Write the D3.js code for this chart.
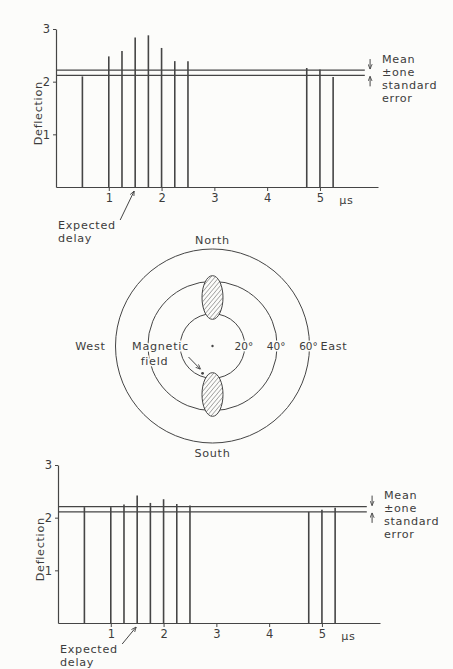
<!DOCTYPE html>
<html>
<head>
<meta charset="utf-8">
<script src="https://cdn.jsdelivr.net/npm/d3@7"></script>
<style>
    body { margin: 0; background: #fcfcfa; }
    text { font-family: "DejaVu Sans", sans-serif; font-size: 11.2px; letter-spacing: 0.7px; fill: #3c3c3c; }
    .tick text { font-size: 11.5px; letter-spacing: 0; }
</style>
</head>
<body>
<svg id="canvas" width="453" height="669"></svg>
<script>
// Pulse delays (µs) and the deflection measured at each one
let delays = [0.5, 1, 1.25, 1.5, 1.75, 2, 2.25, 2.5, 4.75, 5, 5.25]
let topDeflections = [2.1, 2.48, 2.58, 2.84, 2.88, 2.64, 2.39, 2.39, 2.26, 2.23, 2.09]
let bottomDeflections = [2.2, 2.2, 2.25, 2.42, 2.28, 2.35, 2.26, 2.23, 2.11, 2.15, 2.19]

// mean +/- one standard error
let topMeanBand = [2.12, 2.22]
let bottomMeanBand = [2.11, 2.21]

let expectedDelay = 1.5
let delayTicks = [1, 2, 3, 4, 5]
let deflectionTicks = [1, 2, 3]
let bandNote = ['Mean', '\u00b1one', 'standard', 'error']
let delayNote = ['Expected', 'delay']

// Sky diagram (zenith angle in degrees, azimuth from north)
let zenithRings = [20, 40, 60]
let compassNames = ['North', 'East', 'South', 'West']
let lobeAzimuths = [0, 180]
let lobeZenith = 30
let lobeHalfLength = 13.5
let lobeHalfWidth = 6.5
let fieldAzimuth = 200
let fieldZenith = 18

let canvas = d3.select('#canvas')
let ink = '#454545'
let paper = '#fcfcfa'

let defs = canvas.append('defs')
defs.append('marker')
    .attr('id', 'head')
    .attr('viewBox', '0 0 6 6')
    .attr('refX', 6).attr('refY', 3)
    .attr('markerWidth', 5).attr('markerHeight', 5)
    .attr('markerUnits', 'userSpaceOnUse')
    .attr('orient', 'auto')
    .append('path')
    .attr('d', 'M0,0.5L6,3L0,5.5')
    .attr('fill', 'none')
    .attr('stroke', ink)
    .attr('stroke-width', 1)

defs.append('pattern')
    .attr('id', 'hatch')
    .attr('patternUnits', 'userSpaceOnUse')
    .attr('width', 3.2).attr('height', 3.2)
    .attr('patternTransform', 'rotate(40)')
    .append('line')
    .attr('x1', 0).attr('y1', 0).attr('x2', 0).attr('y2', 3.2)
    .attr('stroke', ink)
    .attr('stroke-width', 0.8)

let drawPanel = (deflections, band, left, bottom, noteDrop) => {
    let x = d3.scaleLinear().domain([0, 6.1]).range([left, left + 322])
    let y = d3.scaleLinear().domain([0, 3]).range([bottom, bottom - 158])
    let g = canvas.append('g')

    // axes
    g.append('g')
        .attr('transform', `translate(0,${bottom})`)
        .attr('color', ink)
        .call(d3.axisBottom(x).tickValues(delayTicks).tickSize(4).tickSizeOuter(0).tickFormat(d3.format('d')))
        .select('.domain').attr('stroke-width', 1.2)
    g.append('g')
        .attr('transform', `translate(${left},0)`)
        .attr('color', ink)
        .call(d3.axisLeft(y).tickValues(deflectionTicks).tickSize(3).tickSizeOuter(0).tickFormat(d3.format('d')))
        .select('.domain').attr('stroke-width', 1.2)

    g.append('text')
        .attr('x', x(5.5))
        .attr('y', bottom + 17)
        .attr('text-anchor', 'middle')
        .text('\u00b5s')

    g.append('text')
        .attr('transform', `translate(${left - 14},${y(1.4)}) rotate(-90)`)
        .attr('text-anchor', 'middle')
        .text('Deflection')

    // pulses
    g.selectAll('.bar')
        .data(delays.map((t, i) => ({ t: t, v: deflections[i] })))
        .enter()
        .append('line')
        .attr('class', 'bar')
        .attr('x1', d => x(d.t)).attr('x2', d => x(d.t))
        .attr('y1', y(0)).attr('y2', d => y(d.v))
        .attr('stroke', ink)
        .attr('stroke-width', 1.6)

    // mean band
    g.selectAll('.band')
        .data(band)
        .enter()
        .append('line')
        .attr('x1', x(0)).attr('x2', x(5.85))
        .attr('y1', d => y(d)).attr('y2', d => y(d))
        .attr('stroke', ink)
        .attr('stroke-width', 1.1)

    let ax = x(5.95)
    g.append('line')
        .attr('x1', ax).attr('x2', ax)
        .attr('y1', y(band[1]) - 11).attr('y2', y(band[1]) - 1)
        .attr('stroke', ink).attr('marker-end', 'url(#head)')
    g.append('line')
        .attr('x1', ax).attr('x2', ax)
        .attr('y1', y(band[0]) + 11).attr('y2', y(band[0]) + 1)
        .attr('stroke', ink).attr('marker-end', 'url(#head)')

    g.selectAll('.note')
        .data(bandNote)
        .enter()
        .append('text')
        .attr('x', x.range()[1] + 4)
        .attr('y', (d, i) => y(band[1]) - 7.5 + i * 13)
        .text(d => d)

    // expected delay pointer
    g.append('line')
        .attr('x1', x(expectedDelay) - 15).attr('y1', bottom + noteDrop - 9)
        .attr('x2', x(expectedDelay) - 1).attr('y2', bottom + 4)
        .attr('stroke', ink)
        .attr('marker-end', 'url(#head)')
    g.selectAll('.delaynote')
        .data(delayNote)
        .enter()
        .append('text')
        .attr('x', left + 2)
        .attr('y', (d, i) => bottom + noteDrop + i * 13)
        .text(d => d)
}

let drawSky = (cx, cy) => {
    let r = d3.scaleLinear().domain([0, 60]).range([0, 97])
    let pos = (az, zen) => {
        let a = az * Math.PI / 180
        return [cx + r(zen) * Math.sin(a), cy - r(zen) * Math.cos(a)]
    }
    let g = canvas.append('g')

    g.selectAll('.ring')
        .data(zenithRings)
        .enter()
        .append('circle')
        .attr('cx', cx).attr('cy', cy)
        .attr('r', d => r(d))
        .attr('fill', 'none')
        .attr('stroke', ink)
        .attr('stroke-width', 1)

    g.append('circle').attr('cx', cx).attr('cy', cy).attr('r', 1.2).attr('fill', ink)

    lobeAzimuths.forEach(az => {
        let p = pos(az, lobeZenith)
        g.append('ellipse')
            .attr('cx', p[0]).attr('cy', p[1])
            .attr('rx', r(lobeHalfWidth)).attr('ry', r(lobeHalfLength))
            .attr('transform', `rotate(${az},${p[0]},${p[1]})`)
            .attr('fill', paper)
        g.append('ellipse')
            .attr('cx', p[0]).attr('cy', p[1])
            .attr('rx', r(lobeHalfWidth)).attr('ry', r(lobeHalfLength))
            .attr('transform', `rotate(${az},${p[0]},${p[1]})`)
            .attr('fill', 'url(#hatch)')
            .attr('stroke', ink)
            .attr('stroke-width', 1)
    })

    g.selectAll('.ringlabel')
        .data(zenithRings)
        .enter()
        .append('text')
        .attr('x', d => cx + r(d) - 1)
        .attr('y', cy)
        .attr('dy', '0.35em')
        .attr('text-anchor', 'middle')
        .attr('stroke', paper)
        .attr('stroke-width', 3)
        .attr('paint-order', 'stroke')
        .style('letter-spacing', '0px')
        .style('font-size', '10.5px')
        .text(d => d + '\u00b0')

    let R = r(60)
    let spots = [
        { x: cx, y: cy - R - 9, anchor: 'middle' },
        { x: cx + R + 11, y: cy, anchor: 'start' },
        { x: cx, y: cy + R + 10, anchor: 'middle' },
        { x: cx - R - 10, y: cy, anchor: 'end' }
    ]
    g.selectAll('.compass')
        .data(compassNames)
        .enter()
        .append('text')
        .attr('x', (d, i) => spots[i].x)
        .attr('y', (d, i) => spots[i].y)
        .attr('dy', '0.35em')
        .attr('text-anchor', (d, i) => spots[i].anchor)
        .text(d => d)

    // magnetic field direction
    let f = pos(fieldAzimuth, fieldZenith)
    g.append('circle').attr('cx', f[0]).attr('cy', f[1]).attr('r', 1.4).attr('fill', ink)
    g.append('line')
        .attr('x1', cx - 24).attr('y1', cy + 11)
        .attr('x2', f[0] - 2).attr('y2', f[1] - 4)
        .attr('stroke', ink)
        .attr('marker-end', 'url(#head)')
    g.selectAll('.fieldlabel')
        .data(['Magnetic', 'field'])
        .enter()
        .append('text')
        .attr('x', (d, i) => cx - 52 - i * 6)
        .attr('y', (d, i) => cy + 4 + i * 15)
        .attr('text-anchor', 'middle')
        .attr('stroke', paper)
        .attr('stroke-width', 3)
        .attr('paint-order', 'stroke')
        .text(d => d)
}

drawPanel(topDeflections, topMeanBand, 56, 187, 42)
drawSky(212.5, 346)
drawPanel(bottomDeflections, bottomMeanBand, 58, 623, 30)
</script>
</body>
</html>
